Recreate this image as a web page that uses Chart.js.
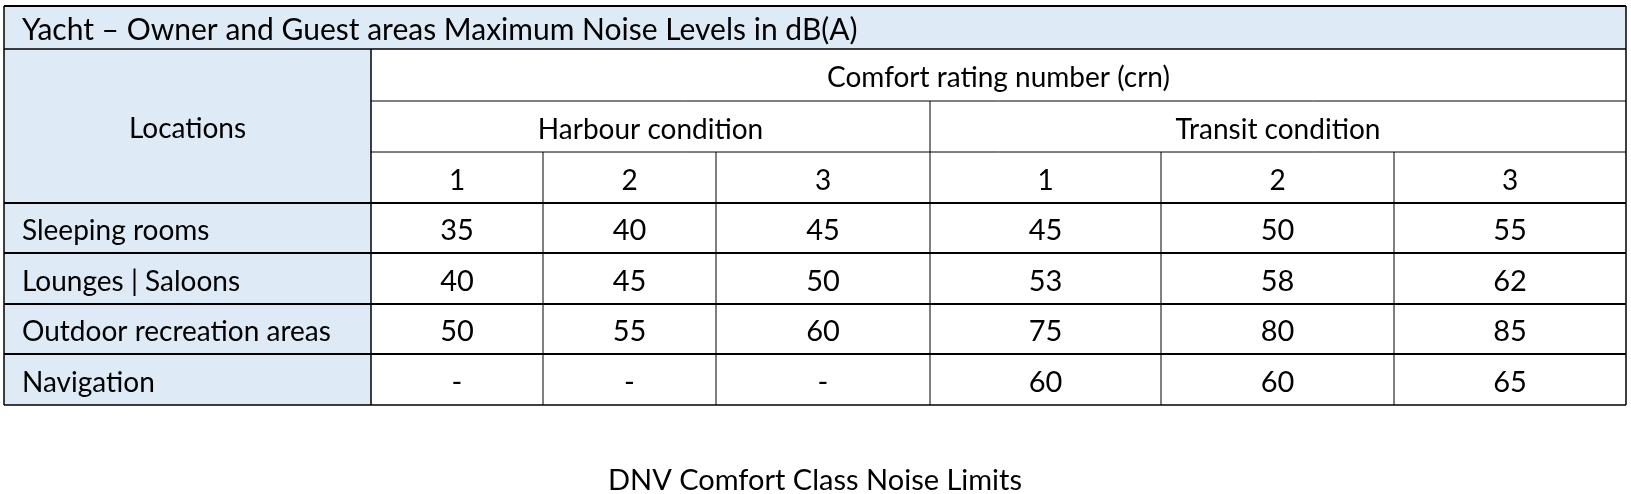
<!DOCTYPE html>
<html><head><meta charset="utf-8">
<script src="https://cdn.jsdelivr.net/npm/chart.js@4"></script>
<style>html,body{margin:0;padding:0;background:#fff}</style>
</head><body>
<canvas id="c" width="1631" height="494"></canvas>
<script>
const title = "Yacht – Owner and Guest areas Maximum Noise Levels in dB(A)";
const caption = "DNV Comfort Class Noise Limits";
const locations = ["Sleeping rooms", "Lounges | Saloons", "Outdoor recreation areas", "Navigation"];
const crnLabels = ["1", "2", "3", "1", "2", "3"];
const harbour = [[35,40,45],[40,45,50],[50,55,60],["-","-","-"]];
const transit = [[45,50,55],[53,58,62],[75,80,85],[60,60,65]];
const colEdges = [4, 371, 543, 716, 930, 1161, 1394, 1626];
const rowEdges = [6, 49, 101, 152, 203, 253, 304, 354, 405];
const FONT = "Lato, 'Open Sans', sans-serif";

const tablePlugin = {
  id: 'table',
  afterDraw(chart) {
    const ctx = chart.ctx, X = chart.scales.x, Y = chart.scales.y;
    const x = i => X.getPixelForValue(colEdges[i]);
    const y = i => Y.getPixelForValue(rowEdges[i]);
    const bg = '#deeaf6';
    ctx.save();
    ctx.fillStyle = bg;
    ctx.fillRect(x(0), y(0), x(7)-x(0), y(1)-y(0));
    ctx.fillRect(x(0), y(1), x(1)-x(0), y(8)-y(1));
    ctx.strokeStyle = '#000';
    const hl = (r, a, b, w) => { ctx.lineWidth = w; ctx.beginPath(); ctx.moveTo(x(a), y(r)); ctx.lineTo(x(b), y(r)); ctx.stroke(); };
    const vl = (c, a, b, w) => { ctx.lineWidth = w; ctx.beginPath(); ctx.moveTo(x(c), y(a)); ctx.lineTo(x(c), y(b)); ctx.stroke(); };
    hl(0,0,7,2); hl(1,0,7,1.5); hl(2,1,7,1); hl(3,1,7,1);
    for (let r = 4; r <= 7; r++) hl(r,0,7,2);
    hl(8,0,7,1.5);
    vl(0,0,8,1.5); vl(7,0,8,1.5); vl(1,1,8,1.5);
    vl(4,2,8,1); [2,3,5,6].forEach(c => vl(c,3,8,1));
    ctx.fillStyle = '#000';
    ctx.textBaseline = 'middle';
    const txt = (s, cx, cy, size, align) => { ctx.font = size + 'px ' + FONT; ctx.textAlign = align || 'center'; ctx.fillText(String(s), cx, cy + 3); };
    const my = i => (y(i)+y(i+1))/2;
    const mx = (a,b) => (x(a)+x(b))/2;
    txt(title, x(0)+18, my(0), 30, 'left');
    txt("Locations", mx(0,1), (y(1)+y(4))/2, 28);
    txt("Comfort rating number (crn)", mx(1,7), my(1), 28);
    txt("Harbour condition", mx(1,4), my(2), 28);
    txt("Transit condition", mx(4,7), my(2), 28);
    crnLabels.forEach((l,i) => txt(l, mx(i+1,i+2), my(3), 28));
    locations.forEach((l,r) => {
      txt(l, x(0)+18, my(4+r), 28, 'left');
      harbour[r].forEach((v,i) => txt(v, mx(i+1,i+2), my(4+r), 29));
      transit[r].forEach((v,i) => txt(v, mx(i+4,i+5), my(4+r), 29));
    });
    txt(caption, X.getPixelForValue(815), Y.getPixelForValue(478), 29);
    ctx.restore();
  }
};

new Chart(document.getElementById('c'), {
  type: 'scatter',
  data: { datasets: [{ data: [] }] },
  options: {
    responsive: false, animation: false, devicePixelRatio: 1,
    layout: { padding: 0 },
    plugins: { legend: { display: false }, tooltip: { enabled: false } },
    scales: {
      x: { type: 'linear', min: 0, max: 1631, display: false },
      y: { type: 'linear', min: 0, max: 494, reverse: true, display: false }
    }
  },
  plugins: [tablePlugin]
});
</script>
</body></html>
